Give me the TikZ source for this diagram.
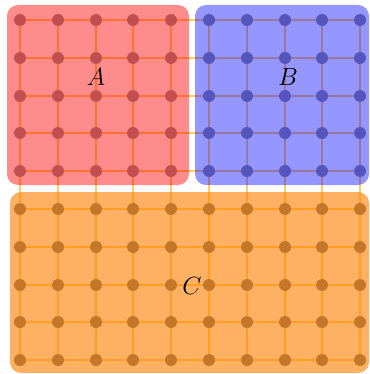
\documentclass[tikz,border=0pt]{standalone}
\definecolor{gridorange}{RGB}{255,205,95}
\begin{document}
\begin{tikzpicture}[x=1pt,y=-1pt,
  gridline/.style={gridorange,line width=1.8pt},
  dot/.style={circle,fill=black!43,inner sep=0pt,minimum size=12pt},
  dotlow/.style={dot,fill=black!58},
  region/.style={rounded corners=11pt,draw=none},
  lab/.style={font=\fontsize{25}{30}\selectfont}]
\useasboundingbox (0,0) rectangle (369,374);
\foreach \i in {0,...,9}{
  \foreach \j in {0,...,9}{
    \pgfmathsetmacro{\px}{round(20+37.8*\i)}
    \pgfmathsetmacro{\py}{round(20+37.8*\j)}
    \coordinate (p-\i-\j) at (\px,\py);
  }
}
\foreach \k in {0,...,9}{
  \draw[gridline] (p-0-\k) -- (p-9-\k);
  \draw[gridline] (p-\k-0) -- (p-\k-9);
}
\foreach \i in {0,...,9}{
  \foreach \j in {0,...,4}{
    \node[dot] (d-\i-\j) at (p-\i-\j) {};
  }
  \foreach \j in {5,...,9}{
    \node[dotlow] (d-\i-\j) at (p-\i-\j) {};
  }
}
\fill[region,red,fill opacity=0.45] (7,5) rectangle (189,185);
\fill[region,blue,fill opacity=0.41] (195,5) rectangle (369,185);
\fill[region,orange,fill opacity=0.61] (10,192) rectangle (369,373);
\node[lab] (A) at (96,77) {$A$};
\node[lab] (B) at (288,77) {$B$};
\node[lab] (C) at (192,286) {$C$};
\end{tikzpicture}
\end{document}
